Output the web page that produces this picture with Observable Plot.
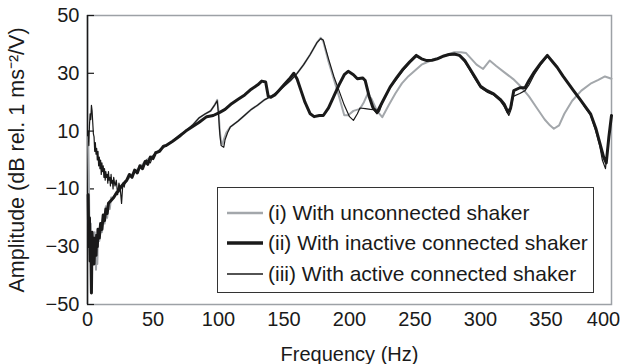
<!DOCTYPE html>
<html><head><meta charset="utf-8">
<script src="https://cdn.jsdelivr.net/npm/d3@7"></script>
<script src="https://cdn.jsdelivr.net/npm/@observablehq/plot@0.6"></script>
<style>
body{margin:0;background:#fff;font-family:"Liberation Sans",Arial,sans-serif;}
#wrap{position:relative;width:627px;height:364px;}
#legend{position:absolute;left:217px;top:187px;width:375px;height:104px;border:1.5px solid #333;background:#fff;}
.row{position:absolute;left:9px;height:26px;display:flex;align-items:center;font-size:21px;color:#1a1a1a;white-space:nowrap;}
.row svg{margin-right:5px;}
</style></head>
<body>
<div id="wrap"></div>
<script>
// ---- data ----
const seriesNames = ["(i) With unconnected shaker", "(ii) With inactive connected shaker", "(iii) With active connected shaker"];
const xTicks = [0, 50, 100, 150, 200, 250, 300, 350];
const xTickLast = [400];
const yTicks = [-50, -30, -10, 10, 30, 50];
const yLabel = "Amplitude (dB rel. 1 ms\u207B\u00B2/V)";

const freqI = [0.5,1,1.5,2,2.5,3,3.5,4,4.5,5,5.5,6,6.5,7,7.5,8,9,10,11,12,13,14,15,16,17,18,20,22,24,26,28,30,33,36,40,45,50,55,60,65,70,75,80,85,90,94,97,99,100,101,102,103,104,106,109,115,120,125,130,135,140,145,150,155,160,165,170,175,178,180,184,188,192,196,199,203,208,211,214,217,221,225,230,235,240,245,250,255,260,265,270,275,280,285,289,293,297,302,307,312,318,325,330,337,343,349,353,356,360,364,370,377,384,390,395,400];
const ampI = [8,-5,-25,-30,-22,-35,-28,-36,-27,-33,-25,-30,-38,-27,-36,-26,-28,-22,-25,-19,-22,-16,-20,-15,-17,-13,-13,-11,-11,-9,-8,-7,-5.5,-4,-2.5,0,1.5,3.5,5,6.5,8.5,10,12,14.5,16,17,19,20.8,17,10,6,5.5,7,9.5,11.4,13.5,15.5,17.5,19,20.8,22,23.5,25.5,27.5,30,33,36.5,40.5,42.3,41,34,28,22,15.5,15.5,17,17.7,20,23,21,17,14.8,19,23,26.5,29,31,33,34,35,35.5,36.5,37.3,37.3,37,35,33,31.5,34.4,32.5,30.4,28,25.8,22,18,14,12,10.8,12,16,20.5,24,26.4,27.7,28.9,28.1];

const freqII = [0.5,1,1.5,2,2.5,3,3.5,4,4.5,5,5.5,6,6.5,7,7.5,8,9,10,11,12,13,14,15,16,18,20,22,24,26,28,30,32,34,36,38,40,42,44,46,48,50,52,55,58,60,65,71,75,80,85,91,96,101,105,110,115,120,125,130,133,136,138,140,143,146,150,154,157.5,160,163,166,170,173,177,180,184,188,192,196,199,203,206,210,212,215,218,221,225,231,236,241,246,251,255,259,263,267,272,276,280,284,288,292,296,300,305,310,315,318,321,323,325.4,330,334,337,341,346,351,355,358.5,363,367,371,376,380,384,388,391,394,396,398,400];
const ampII = [-12,-30,-20,-35,-28,-46,-25,-32,-27,-36,-30,-27,-33,-26,-30,-24,-27,-22,-24,-19,-21,-17,-18.5,-15,-14,-13,-11.5,-10.5,-9,-8,-7,-5,-6,-3.5,-4.5,-2,-3,-0.5,-1.5,1,0.5,2.5,3,4.8,5,6.5,8.5,10,11.5,13,15,15.4,16.5,17.5,19.5,21,22.5,24.5,26,27.3,27,22,21.7,22.5,24,26,28,30,28,24,20,16,15,15.4,15.4,18,22,26,29.5,30.7,29.5,28.1,28.4,27.5,22,18,16.5,20,25.2,28.5,31.5,34,36.2,35,34.4,34.5,35,36,36.5,36.7,36.2,34.4,31.5,28.5,25.5,24,22.9,21,19.4,16.5,18,24,25,25,27.5,30.4,33.5,36.2,34,32.1,29,26.5,24,21,18.5,16,11,6,1,-1,8,15.4];

const freqIII = [0.5,1,1.5,2,2.5,3,3.5,4,4.5,5,5.5,6,6.5,7,7.5,8,8.5,9,9.5,10,10.5,11,11.5,12,12.5,13,13.5,14,14.5,15,15.5,16,16.5,17,17.5,18,18.5,19,19.5,20,21,22,23,24,25,26,27,28,29,30,32,34,36,38,40,42,45,48,50,55,60,65,70,75,80,85,90,94,97,99,100,101,102,104,105,107,109,115,120,125,130,135,140,145,150,155,160,165,170,175,178,180,184,188,192,196,200,203,206,208,212,216,218.5,221,223,226,231,236,241,246,251,255,259,263,267,272,276,280,284,288,292,296,300,305,310,315,318,321.6,323,325,330,334,337,341,346,351,355,358.5,363,367,371,376,380,384,388,391,393,395.4,396.5,398,400];
const ampIII = [10,5,12,16,14,18.9,17,13,9,8,3,6,2,4,0,3,-2,1,-3,0,-5,-1,-4,-2,-6,-3,-7,-4,-6,-5,-8,-4,-7,-6,-9,-5,-8,-7,-10,-6,-9,-7,-12,-8,-10,-15,-8,-9.4,-7,-7,-5,-6,-3.5,-4.5,-2.5,-2,0,-1,1.5,3.5,5,6.5,8.5,10,12,14.5,16,17,19,20.5,16,9,5,4.4,7,9.5,11.4,13.5,15.5,17.5,19,20.8,22,23.5,25.5,27.5,30,33,36.5,40.5,42,41.5,35,29,24,19,15,13.7,16,18,17.8,17.5,17.4,16,17,21,25,28,31,33.5,35.8,35,34.5,34.5,35,36,36.3,36.5,36,34,31,28,25,23.5,22.5,20.5,18.5,15.4,17,22,23,24,26,29.5,33,35.8,34,32,29,26.5,24,21,18,15.5,10,5,0,-3,2,8,15];

const seriesColors = ["#a3a7ab", "#1a1a1a", "#1a1a1a"];
const seriesWidths = [2, 3, 1.2];

// ---- build ----
const toRows = (fs, vs) => fs.map((f, i) => ({f, v: vs[i]}));
const dataI = toRows(freqI, ampI), dataII = toRows(freqII, ampII), dataIII = toRows(freqIII, ampIII);

const chart = Plot.plot({
  width: 627, height: 364,
  marginLeft: 87, marginRight: 16, marginTop: 15, marginBottom: 60,
  style: {fontFamily: "'Liberation Sans', Arial, sans-serif", fontSize: "20px", color: "#1a1a1a", background: "white", overflow: "visible"},
  x: {domain: [0, 400]},
  y: {domain: [-50, 50]},
  marks: [
    Plot.frame({stroke: "#9da1a6", strokeWidth: 1.5}),
    Plot.axisX(xTicks, {tickSize: 0, tickPadding: 7, tickFormat: d => String(d), label: "Frequency (Hz)", labelAnchor: "center", labelArrow: "none", labelOffset: 56}),
    Plot.axisX(xTickLast, {tickSize: 0, tickPadding: 7, dx: -8, tickFormat: d => String(d), label: null}),
    Plot.axisY(yTicks, {tickSize: -7, tickPadding: 15, strokeWidth: 1.2, tickFormat: d => (d < 0 ? "\u2212" + Math.abs(d) : String(d)), label: null}),
    Plot.text([yLabel], {frameAnchor: "left", textAnchor: "middle", lineAnchor: "middle", dx: -70, rotate: -90, fontSize: 21.5, text: d => d}),
    Plot.ruleX([0], {stroke: "#1a1a1a", strokeWidth: 1.5}),
    Plot.line(dataI, {x: "f", y: "v", stroke: seriesColors[0], strokeWidth: seriesWidths[0]}),
    Plot.line(dataII, {x: "f", y: "v", stroke: seriesColors[1], strokeWidth: seriesWidths[1]}),
    Plot.line(dataIII, {x: "f", y: "v", stroke: seriesColors[2], strokeWidth: seriesWidths[2]})
  ]
});
const wrap = document.getElementById("wrap");
wrap.appendChild(chart);

// legend inside the plot area
const legend = document.createElement("div");
legend.id = "legend";
const rowTops = [12, 42, 73];
seriesNames.forEach((name, i) => {
  const row = document.createElement("div");
  row.className = "row";
  row.style.top = rowTops[i] + "px";
  row.innerHTML = `<svg width="36" height="10"><line x1="0" x2="36" y1="5" y2="5" stroke="${seriesColors[i]}" stroke-width="${seriesWidths[i] + 0.3}"/></svg><span>${name}</span>`;
  legend.appendChild(row);
});
wrap.appendChild(legend);
</script>
</body></html>
